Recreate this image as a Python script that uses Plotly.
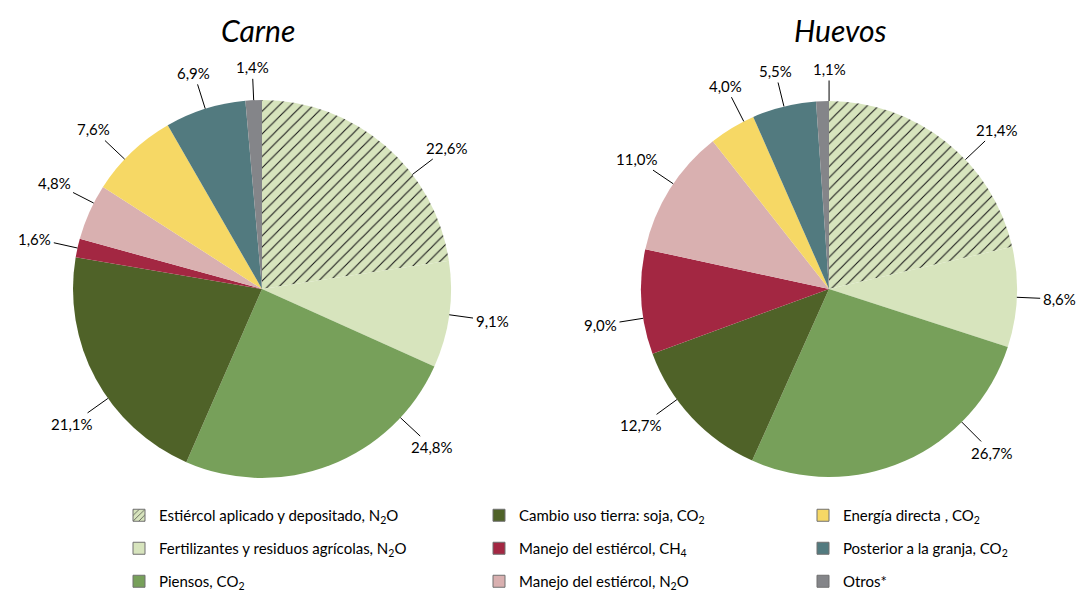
import math
import plotly.graph_objects as go

# ----- data -----
categories = [
    "Estiércol aplicado y depositado, N<sub>2</sub>O",
    "Fertilizantes y residuos agrícolas, N<sub>2</sub>O",
    "Piensos, CO<sub>2</sub>",
    "Cambio uso tierra: soja, CO<sub>2</sub>",
    "Manejo del estiércol, CH<sub>4</sub>",
    "Manejo del estiércol, N<sub>2</sub>O",
    "Energía directa , CO<sub>2</sub>",
    "Posterior a la granja, CO<sub>2</sub>",
    "Otros*",
]
carne = [22.6, 9.1, 24.8, 21.1, 1.6, 4.8, 7.6, 6.9, 1.4]
huevos = [21.4, 8.6, 26.7, 12.7, 9.0, 11.0, 4.0, 5.5, 1.1]
titles = ["Carne", "Huevos"]

# ----- styles -----
colors = ["#d7e4bd", "#d7e4bd", "#77a05a", "#4f6228", "#a32742",
          "#d9b0b0", "#f6d865", "#527a7f", "#848589"]
patterns = ["/", "", "", "", "", "", "", "", ""]
W, H = 1076, 591
FONT = "Lato, sans-serif"

# pie centre (px) and radius, label angle nudges (deg)
pies = [
    dict(vals=carne, cx=262, cy=289, r=189, title_x=258,
         nudge=[12, 0, -26, -7, 0, 3, -3, 0, 0]),
    dict(vals=huevos, cx=829, cy=289, r=188, title_x=840,
         nudge=[8, 0, -21, 7, -5, 2, 4, 0, 2]),
]

fig = go.Figure()
annotations = []

for p, title in zip(pies, titles):
    cx, cy, r = p["cx"], p["cy"], p["r"]
    fig.add_trace(go.Pie(
        values=p["vals"],
        labels=categories,
        sort=False,
        direction="clockwise",
        rotation=0,
        textinfo="none",
        hoverinfo="label+percent",
        showlegend=False,
        marker=dict(colors=colors, line=dict(width=0),
                    pattern=dict(shape=patterns, bgcolor=colors, fgcolor="#1a1a1a",
                                 size=8, solidity=0.14, fillmode="replace")),
        domain=dict(x=[(cx - r) / W, (cx + r) / W],
                    y=[1 - (cy + r) / H, 1 - (cy - r) / H]),
    ))

    # labels with leader lines
    total = sum(p["vals"])
    cum = 0
    for v, nd in zip(p["vals"], p["nudge"]):
        mid = (cum + v / 2) / total * 360 + nd
        cum += v
        a = math.radians(mid)
        s, c = math.sin(a), math.cos(a)
        ex, ey = cx + r * s, cy - r * c
        d = 22 + 20 * abs(s) + 10 * abs(c)
        annotations.append(dict(
            x=ex / W, y=1 - ey / H, xref="paper", yref="paper",
            ax=d * s, ay=-d * c, axref="pixel", ayref="pixel",
            text=f"{v:.1f}".replace(".", ",") + "%",
            showarrow=True, arrowhead=0, arrowwidth=1, arrowcolor="#000000",
            standoff=0, startstandoff=1,
            font=dict(family=FONT, size=15, color="#000000"),
        ))

    annotations.append(dict(
        x=p["title_x"] / W, y=1 - 30 / H, xref="paper", yref="paper",
        xanchor="center", yanchor="middle",
        text=f"<i>{title}</i>", showarrow=False,
        font=dict(family=FONT, size=30, color="#000000"),
    ))

# legend keys (3 columns)
legend_names = ["legend", "legend2", "legend3"]
for i, (cat, col, pat) in enumerate(zip(categories, colors, patterns)):
    fig.add_trace(go.Bar(
        x=[None], y=[None], name=cat,
        marker=dict(color=col, line=dict(color="#707070", width=1),
                    pattern=dict(shape=pat, bgcolor=col, fgcolor="#222222",
                                 size=5, solidity=0.15, fillmode="replace")),
        legend=legend_names[i // 3], legendgroup=f"g{i}",
        showlegend=True, hoverinfo="skip",
    ))

leg_common = dict(orientation="v", yanchor="top", y=1 - 499 / H, xanchor="left",
                  bgcolor="rgba(0,0,0,0)", traceorder="grouped", tracegroupgap=10.5,
                  font=dict(family=FONT, size=15, color="#000000"))

fig.update_layout(
    width=W, height=H,
    margin=dict(l=0, r=0, t=0, b=0, autoexpand=False),
    paper_bgcolor="white", plot_bgcolor="white",
    xaxis=dict(visible=False), yaxis=dict(visible=False),
    annotations=annotations,
    legend=dict(x=119 / W, **leg_common),
    legend2=dict(x=479 / W, **leg_common),
    legend3=dict(x=803 / W, **leg_common),
)

fig.write_html("out.html", config={"displayModeBar": False},
               post_script="document.body.style.margin='0';")
